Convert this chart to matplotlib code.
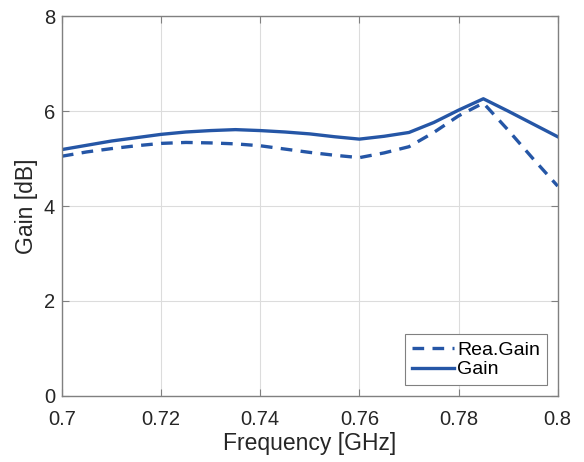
import numpy as np
import matplotlib.pyplot as plt

plt.rcParams['font.family'] = ['Liberation Sans', 'DejaVu Sans']

freq = [0.700, 0.705, 0.710, 0.715, 0.720, 0.725, 0.730, 0.735, 0.740, 0.745, 0.750,
        0.755, 0.760, 0.765, 0.770, 0.775, 0.780, 0.785, 0.790, 0.795, 0.800]
gain = [5.19, 5.28, 5.37, 5.44, 5.51, 5.56, 5.59, 5.61, 5.59, 5.56, 5.52,
        5.46, 5.41, 5.47, 5.55, 5.76, 6.02, 6.26, 6.00, 5.73, 5.46]
rea_gain = [5.05, 5.14, 5.21, 5.27, 5.32, 5.34, 5.33, 5.31, 5.27, 5.20, 5.13,
            5.07, 5.02, 5.12, 5.25, 5.55, 5.90, 6.17, 5.60, 5.00, 4.42]

blue = '#2556a6'
fig = plt.figure(figsize=(5.84, 4.62), dpi=100)
ax = fig.add_axes([0.106, 0.143, 0.849, 0.822])

ax.plot(freq, rea_gain, '--', color=blue, lw=2.4, dashes=(3.5, 2.5), label='Rea.Gain')
ax.plot(freq, gain, '-', color=blue, lw=2.4, label='Gain')

ax.set_xlim(0.7, 0.8)
ax.set_ylim(0, 8)
ax.set_xticks(np.arange(0.7, 0.801, 0.02))
ax.set_xticklabels(['0.7', '0.72', '0.74', '0.76', '0.78', '0.8'])
ax.set_yticks([0, 2, 4, 6, 8])
ax.grid(True, color='#dcdcdc', lw=0.8)
ax.set_axisbelow(True)
ax.tick_params(direction='in', top=True, right=True, labelsize=14.5,
               color='#808080', labelcolor='#262626', length=5, width=0.8)
ax.tick_params(axis='x', pad=10)
ax.tick_params(axis='y', pad=5)
for s in ax.spines.values():
    s.set_color('#808080')
    s.set_linewidth(1.0)
ax.set_xlabel('Frequency [GHz]', fontsize=16.5, color='#262626', labelpad=2)
ax.set_ylabel('Gain [dB]', fontsize=16.5, color='#262626', labelpad=4)

leg = ax.legend(loc='lower right', fontsize=14, fancybox=False, framealpha=1,
                edgecolor='#808080', handlelength=2.2, borderpad=0.35,
                labelspacing=0.1, handletextpad=0.15, borderaxespad=0.55)
leg.get_frame().set_linewidth(0.8)

fig.savefig('out.png', dpi=100)
